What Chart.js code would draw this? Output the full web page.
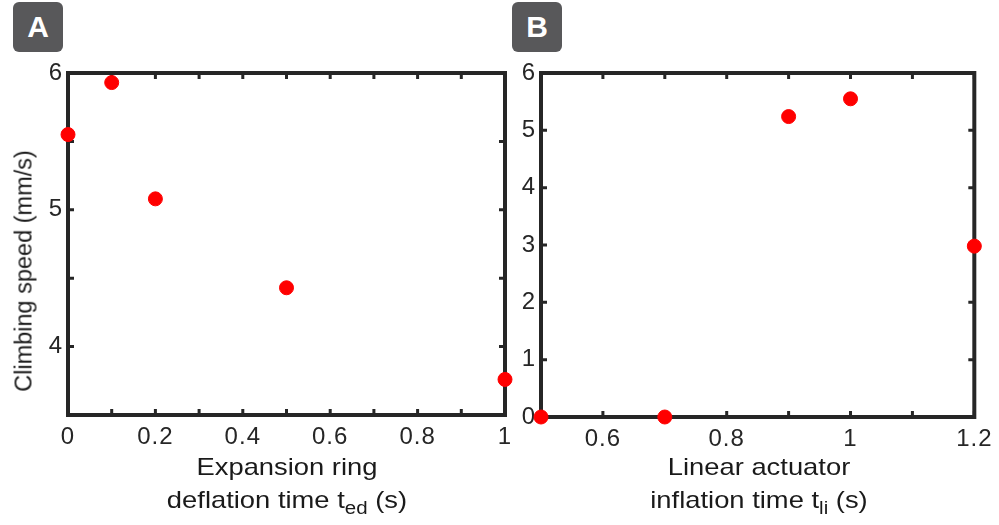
<!DOCTYPE html>
<html>
<head>
<meta charset="utf-8">
<script src="https://cdn.jsdelivr.net/npm/chart.js@4.4.1/dist/chart.umd.min.js"></script>
<style>
  html, body { margin: 0; padding: 0; background: #fff; }
  body { width: 999px; height: 525px; position: relative; overflow: hidden;
         font-family: "Liberation Sans", Arial, sans-serif; color: #1a1a1a; }
  canvas { position: absolute; top: 0; }
  #cA { left: 0; }
  #cB { left: 500px; }
  .badge { position: absolute; top: 2px; width: 50px; height: 50px; border-radius: 6px;
           background: #58585a; color: #fff; font-weight: bold; font-size: 30px;
           line-height: 50px; text-align: center; }
  .xt { position: absolute; width: 400px; text-align: center; font-size: 24px; line-height: 33px;
        transform: scaleX(1.14); transform-origin: 50% 0; }
  .xt sub { font-size: 18px; vertical-align: -6px; line-height: 0; }
  #yt { position: absolute; left: 24px; top: 271px; font-size: 23.5px; white-space: nowrap;
        transform: translate(-50%, -50%) rotate(-90deg); }
</style>
</head>
<body>
<canvas id="cA" width="525" height="525"></canvas>
<canvas id="cB" width="499" height="525"></canvas>
<div class="badge" style="left:13px">A</div>
<div class="badge" style="left:512px">B</div>
<div id="yt">Climbing speed (mm/s)</div>
<div class="xt" style="left:87px; top:450px">Expansion ring<br>deflation time t<sub>ed</sub> (s)</div>
<div class="xt" style="left:559px; top:450px">Linear actuator<br>inflation time t<sub>li</sub> (s)</div>
<script>
// panel A: expansion ring deflation time
var deflationTime = [0, 0.1, 0.2, 0.5, 1];
var speedA = [5.55, 5.93, 5.08, 4.43, 3.76];
var xLabelsA = [0, 0.2, 0.4, 0.6, 0.8, 1];
var yLabelsA = [4, 5, 6];
var xMarksA = [0, 0.1, 0.2, 0.3, 0.4, 0.5, 0.6, 0.7, 0.8, 0.9, 1];
var yMarksA = [3.5, 4, 4.5, 5, 5.5, 6];

// panel B: linear actuator inflation time
var inflationTime = [0.5, 0.7, 0.9, 1.0, 1.2];
var speedB = [0, 0, 5.24, 5.55, 2.98];
var xLabelsB = [0.6, 0.8, 1, 1.2];
var yLabelsB = [0, 1, 2, 3, 4, 5, 6];
var xMarksB = [0.5, 0.6, 0.7, 0.8, 0.9, 1, 1.1, 1.2];
var yMarksB = [0, 1, 2, 3, 4, 5, 6];

var ink = "#262626";

var framePlugin = {
    id: "frame",
    beforeDraw: function (chart) {
        // the source figure's digits are a little wider than Liberation Sans
        chart.ctx.letterSpacing = "1px";
    },
    beforeDatasetsDraw: function (chart, args, opts) {
        var ctx = chart.ctx;
        var a = chart.chartArea;
        var xs = chart.scales.x, ys = chart.scales.y;
        ctx.save();
        ctx.strokeStyle = ink;
        ctx.lineWidth = 3;
        opts.xMarks.forEach(function (v) {
            var px = xs.getPixelForValue(v);
            ctx.beginPath();
            ctx.moveTo(px, a.bottom); ctx.lineTo(px, a.bottom - 6);
            ctx.moveTo(px, a.top); ctx.lineTo(px, a.top + 6);
            ctx.stroke();
        });
        opts.yMarks.forEach(function (v) {
            var py = ys.getPixelForValue(v);
            ctx.beginPath();
            ctx.moveTo(a.left, py); ctx.lineTo(a.left + 6, py);
            ctx.moveTo(a.right, py); ctx.lineTo(a.right - 6, py);
            ctx.stroke();
        });
        ctx.lineWidth = 4;
        ctx.strokeRect(a.left, a.top, a.right - a.left, a.bottom - a.top);
        ctx.restore();
    }
};

function makePanel(id, xs, ys, xmin, xmax, ymin, ymax, xLabels, yLabels, xMarks, yMarks, yWidth, xHeight, padRight) {
    var ctx = document.getElementById(id).getContext("2d");
    return new Chart(ctx, {
        type: "scatter",
        data: {
            datasets: [{
                data: xs.map(function (x, i) { return { x: x, y: ys[i] }; }),
                backgroundColor: "#ff0000",
                borderColor: "#ff0000",
                pointRadius: 7,
                pointHoverRadius: 7,
                clip: false
            }]
        },
        options: {
            responsive: false,
            animation: false,
            layout: { padding: { top: 73, right: padRight, bottom: 0, left: 0 } },
            plugins: {
                legend: { display: false },
                tooltip: { enabled: false },
                frame: { xMarks: xMarks, yMarks: yMarks }
            },
            scales: {
                x: {
                    type: "linear",
                    min: xmin, max: xmax,
                    grid: { display: false, drawTicks: false },
                    border: { display: false },
                    afterBuildTicks: function (s) { s.ticks = xLabels.map(function (v) { return { value: v }; }); },
                    afterFit: function (s) { s.height = xHeight; },
                    ticks: {
                        autoSkip: false, maxRotation: 0, padding: 8, color: ink,
                        font: { family: "Liberation Sans", size: 24 },
                        callback: function (v) { return String(v); }
                    }
                },
                y: {
                    type: "linear",
                    min: ymin, max: ymax,
                    grid: { display: false, drawTicks: false },
                    border: { display: false },
                    afterBuildTicks: function (s) { s.ticks = yLabels.map(function (v) { return { value: v }; }); },
                    afterFit: function (s) { s.width = yWidth; },
                    ticks: {
                        autoSkip: false, padding: 5, color: ink,
                        font: { family: "Liberation Sans", size: 24 },
                        callback: function (v) { return String(v); }
                    }
                }
            }
        },
        plugins: [framePlugin]
    });
}

makePanel("cA", deflationTime, speedA, 0, 1, 3.5, 6, xLabelsA, yLabelsA, xMarksA, yMarksA, 68, 110, 20);
makePanel("cB", inflationTime, speedB, 0.5, 1.2, 0, 6, xLabelsB, yLabelsB, xMarksB, yMarksB, 41, 108, 22);
</script>
</body>
</html>
